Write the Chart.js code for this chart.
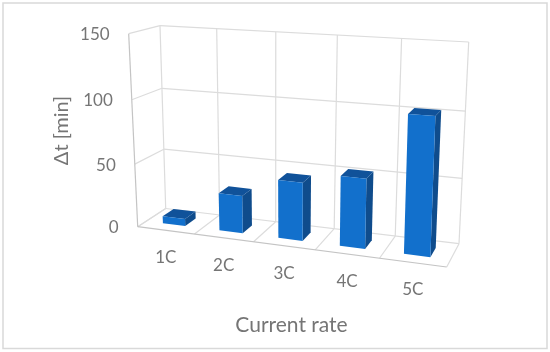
<!DOCTYPE html>
<html>
<head>
<meta charset="utf-8">
<style>
  html, body { margin: 0; padding: 0; background: #fff; }
  #wrap { width: 550px; height: 352px; }
</style>
<script src="https://cdn.jsdelivr.net/npm/chart.js@4"></script>
</head>
<body>
<div id="wrap"><canvas id="chart" width="550" height="352"></canvas></div>
<script>
const categories = ["1C", "2C", "3C", "4C", "5C"];
const deltaT = [5.7, 29.5, 45, 53, 103];
const yMin = 0, yMax = 150, yStep = 50;
const xTitle = "Current rate";
const yTitle = "Δt [min]";

// box corners on the page, named by x / height / depth
const box = {
    p000: [137.7, 226.7], p100: [446.7, 267],
    p001: [165.7, 208.5], p101: [459, 243.7],
    p010: [128.7, 33.7],  p110: [454.7, 54],
    p011: [160, 25.7],    p111: [468.7, 42]
};
const warpX = -0.1, warpY = -0.04, warpZ = 0.05; // perspective along each axis
const depthFront = 0.3, depthBack = 0.7; // gap depth 150%

const warp = (t, k) => t * (1 + k) / (1 + k * t);
const mix = (a, b, t) => [a[0] + (b[0] - a[0]) * t, a[1] + (b[1] - a[1]) * t];

function project(u, v, w) {
    u = warp(u, warpX); v = warp(v, warpY); w = warp(w, warpZ);
    const front = mix(mix(box.p000, box.p100, u), mix(box.p010, box.p110, u), v);
    const back = mix(mix(box.p001, box.p101, u), mix(box.p011, box.p111, u), v);
    return mix(front, back, w);
}

function line(ctx, a, b, color, width) {
    ctx.beginPath();
    ctx.moveTo(a[0], a[1]);
    ctx.lineTo(b[0], b[1]);
    ctx.strokeStyle = color;
    ctx.lineWidth = width;
    ctx.stroke();
}

function quad(ctx, pts, color) {
    ctx.beginPath();
    pts.forEach((p, i) => i ? ctx.lineTo(p[0], p[1]) : ctx.moveTo(p[0], p[1]));
    ctx.closePath();
    ctx.fillStyle = color;
    ctx.fill();
}

// the scales give u and v, the plugin puts them into the box
const box3d = {
    id: "box3d",
    beforeDatasetsDraw(chart) {
        const { ctx, scales: { x, y }, chartArea: area } = chart;
        const toU = px => (px - area.left) / area.width;
        const toV = px => (area.bottom - px) / area.height;
        ctx.save();

        ctx.strokeStyle = "#d9d9d9";
        ctx.lineWidth = 1.5;
        ctx.strokeRect(3, 3, 544, 345.5);

        const grid = "#dcdcdc", edge = "#c4c4c4";
        y.ticks.forEach(t => {
            const v = toV(y.getPixelForValue(t.value));
            line(ctx, project(0, v, 0), project(0, v, 1), grid, 1.2);
            line(ctx, project(0, v, 1), project(1, v, 1), grid, 1.2);
        });
        categories.forEach((c, i) => {
            const u = (i + 1) / categories.length;
            line(ctx, project(u, 0, 1), project(u, 1, 1), grid, 1.2);
            line(ctx, project(u, 0, 0), project(u, 0, 1), grid, 1.2);
        });
        line(ctx, project(0, 0, 1), project(0, 1, 1), grid, 1.2);
        line(ctx, project(0, 0, 0), project(0, 0, 1), grid, 1.2);
        line(ctx, project(0, 0, 0), project(0, 1, 0), edge, 1.2);
        line(ctx, project(0, 0, 0), project(1, 0, 0), edge, 1.2);

        ctx.fillStyle = "#757575";
        ctx.textBaseline = "middle";
        ctx.font = "17px Lato";
        ctx.textAlign = "right";
        y.ticks.forEach(t => {
            const p = project(0, toV(y.getPixelForValue(t.value)), 0);
            ctx.fillText(t.label, p[0] - 19, p[1] + 1);
        });
        ctx.font = "17px Lato";
        ctx.textAlign = "center";
        x.getLabels().forEach((label, i) => {
            const p = project(toU(x.getPixelForValue(i)), 0, 0);
            ctx.fillText(label, p[0], p[1] + 27.3);
        });
        ctx.font = "21px Lato";
        ctx.fillText(xTitle, 291.5, 325);
        ctx.font = "20px Lato";
        ctx.translate(62, 130.5);
        ctx.rotate(-Math.PI / 2);
        ctx.fillText(yTitle, 0, 0);
        ctx.restore();
    },
    afterDatasetsDraw(chart) {
        const { ctx, chartArea: area } = chart;
        const toU = px => (px - area.left) / area.width;
        const toV = px => (area.bottom - px) / area.height;
        chart.getDatasetMeta(0).data.forEach(bar => {
            const u0 = toU(bar.x - bar.width / 2), u1 = toU(bar.x + bar.width / 2);
            const v0 = toV(bar.base), v1 = toV(bar.y);
            const d0 = depthFront, d1 = depthBack;
            quad(ctx, [project(u1, v0, d0), project(u1, v0, d1), project(u1, v1, d1), project(u1, v1, d0)], "#0f4c8c");
            quad(ctx, [project(u0, v1, d0), project(u1, v1, d0), project(u1, v1, d1), project(u0, v1, d1)], "#10529a");
            quad(ctx, [project(u0, v0, d0), project(u1, v0, d0), project(u1, v1, d0), project(u0, v1, d0)], "#1270cc");
        });
    }
};

new Chart(document.getElementById("chart"), {
    type: "bar",
    plugins: [box3d],
    data: {
        labels: categories,
        datasets: [{
            data: deltaT,
            backgroundColor: "rgba(0,0,0,0)",
            categoryPercentage: 0.4,
            barPercentage: 1
        }]
    },
    options: {
        responsive: false,
        animation: false,
        layout: { padding: 0 },
        plugins: { legend: { display: false }, tooltip: { enabled: false } },
        scales: {
            x: { display: false },
            y: { display: false, min: yMin, max: yMax, ticks: { stepSize: yStep } }
        }
    }
});
</script>
</body>
</html>
